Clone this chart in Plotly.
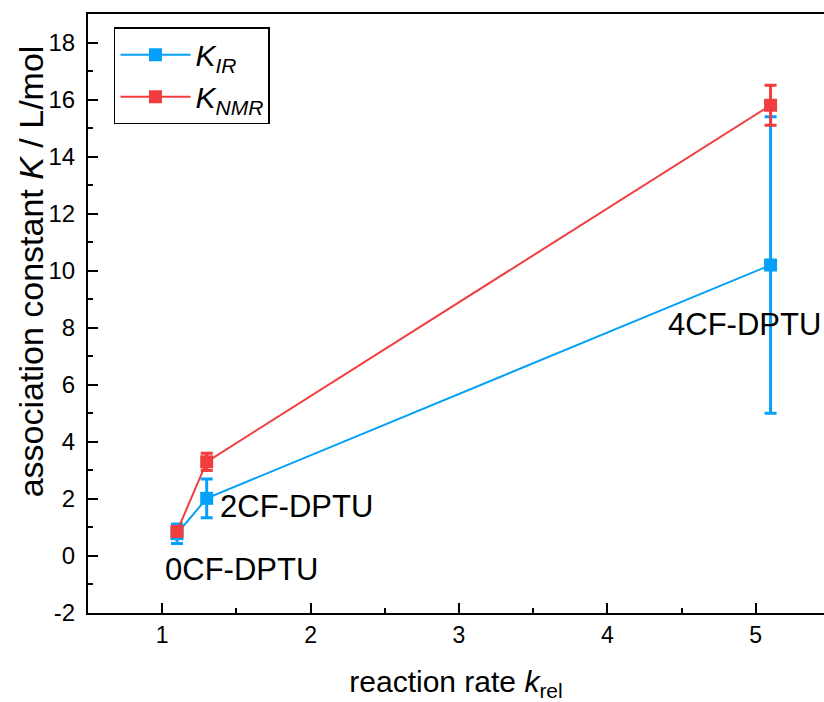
import plotly.graph_objects as go

# ---- data ----
k_rel = [1.1, 1.3, 5.1]
K_IR = [0.78, 2.02, 10.2]
K_IR_err = [0.34, 0.68, 5.2]
K_NMR = [0.86, 3.3, 15.8]
K_NMR_err = [0.15, 0.3, 0.7]
compounds = ["0CF-DPTU", "2CF-DPTU", "4CF-DPTU"]
label_x = [1.005, 1.377, 4.396]
label_y = [-0.49, 1.72, 8.1]
x_ticks = [1, 2, 3, 4, 5]
y_ticks = [-2, 0, 2, 4, 6, 8, 10, 12, 14, 16, 18]
y_ticktext = ["-2", "0", "2", "4", "6", "8", "10", "12", "14", "16", "18"]

BLUE = "#05A0FA"
RED = "#F23D3F"
FONT = "Liberation Sans, Arial, sans-serif"

fig = go.Figure()
fig.add_trace(go.Scatter(
    x=k_rel, y=K_IR, mode="lines+markers",
    name="<i>K</i><sub><i>IR</i></sub>",
    line=dict(color=BLUE, width=2),
    marker=dict(symbol="square", size=13, color=BLUE),
    error_y=dict(type="data", array=K_IR_err, visible=True, color=BLUE, thickness=3, width=6),
))
fig.add_trace(go.Scatter(
    x=k_rel, y=K_NMR, mode="lines+markers",
    name="<i>K</i><sub><i>NMR</i></sub>",
    line=dict(color=RED, width=2),
    marker=dict(symbol="square", size=13, color=RED),
    error_y=dict(type="data", array=K_NMR_err, visible=True, color=RED, thickness=3, width=6),
))

for t, xx, yy in zip(compounds, label_x, label_y):
    fig.add_annotation(x=xx, y=yy, text=t, showarrow=False, xanchor="left", yanchor="middle",
                       font=dict(family=FONT, size=31, color="black"))

# y-axis title as rotated annotation (positioned like the reference)
fig.add_annotation(xref="paper", yref="paper", x=-0.077, y=0.571, textangle=-90,
                   text="association constant <i>K</i> / L/mol", showarrow=False,
                   xanchor="center", yanchor="middle",
                   font=dict(family=FONT, size=34, color="black"))

fig.update_layout(
    width=824, height=702,
    margin=dict(l=88, r=0, t=14, b=89),
    paper_bgcolor="white", plot_bgcolor="white",
    font=dict(family=FONT, color="black"),
    showlegend=True,
    legend=dict(x=0.0353, y=0.978, xanchor="left", yanchor="top",
                bordercolor="black", borderwidth=1.5, bgcolor="white",
                font=dict(family=FONT, size=30), itemwidth=70),
    xaxis=dict(range=[0.5, 5.46], tickvals=x_ticks, showgrid=False, zeroline=False,
               showline=True, linecolor="black", linewidth=2, mirror=True,
               ticks="inside", ticklen=10, tickwidth=2, tickcolor="black",
               minor=dict(ticks="inside", ticklen=5, tickwidth=2, tickcolor="black", dtick=0.5),
               tickfont=dict(family=FONT, size=23),
               title=dict(text="reaction rate <i>k</i><sub>rel</sub>", font=dict(family=FONT, size=30), standoff=24)),
    yaxis=dict(range=[-2, 19], tickvals=y_ticks, ticktext=y_ticktext, showgrid=False, zeroline=False,
               showline=True, linecolor="black", linewidth=2, mirror=False,
               ticks="inside", ticklen=10, tickwidth=2, tickcolor="black",
               minor=dict(ticks="inside", ticklen=5, tickwidth=2, tickcolor="black", dtick=1),
               tickfont=dict(family=FONT, size=24), ticklabelstandoff=6),
)

fig.write_html("out.html")
